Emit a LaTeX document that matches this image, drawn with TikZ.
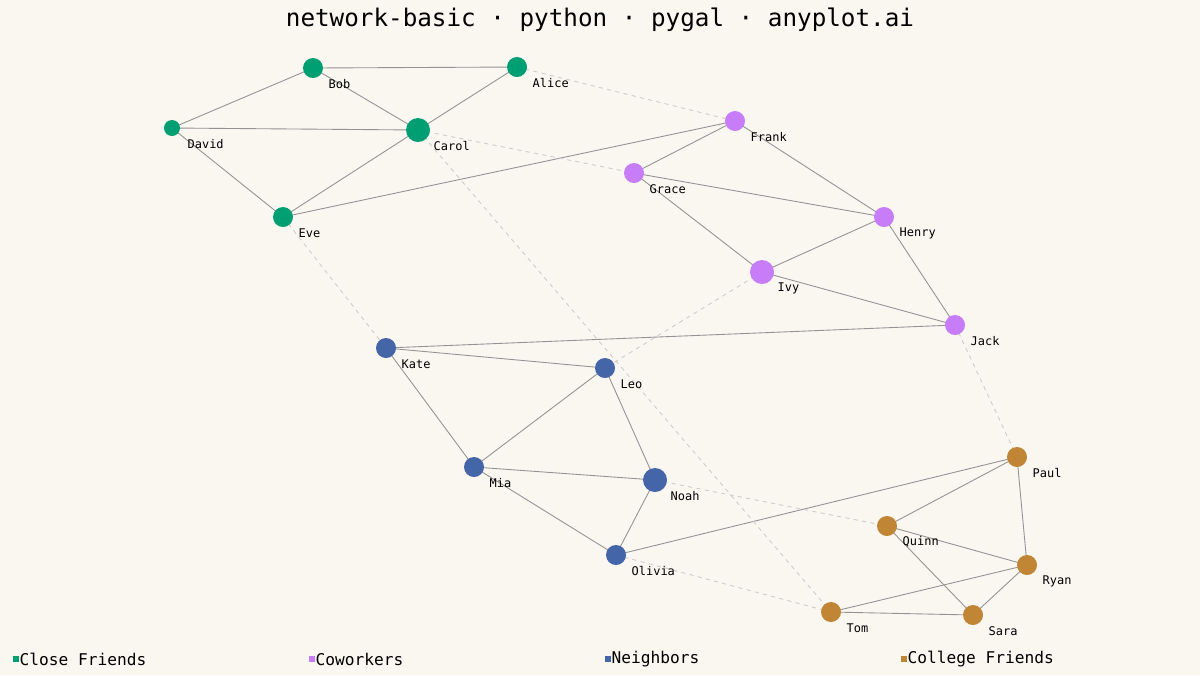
\documentclass[tikz,border=0pt]{standalone}
\usepackage{fontspec}
\setmonofont{DejaVu Sans Mono}
\usetikzlibrary{positioning}
\definecolor{bgc}{HTML}{FAF7F1}
\definecolor{cgreen}{HTML}{009E73}
\definecolor{cpurple}{HTML}{C77CF8}
\definecolor{cblue}{HTML}{4465A8}
\definecolor{corange}{HTML}{C08535}
\begin{document}
\begin{tikzpicture}[x=0.01cm, y=-0.01cm]
\tikzset{
  vtx/.style={circle, inner sep=0pt, minimum size=#1},
  lbl/.style={font=\ttfamily\fontsize{3.4pt}{4pt}\selectfont, anchor=west, inner sep=0pt},
  solid edge/.style={draw=gray!85, line width=0.25pt},
  weak edge/.style={draw=gray!40, line width=0.25pt, dash pattern=on 1.2pt off 1.2pt},
  legend/.style={font=\ttfamily\fontsize{4.6pt}{5pt}\selectfont, anchor=west, inner sep=0pt}
}
\fill[bgc] (0,0) rectangle (1200,675);
\useasboundingbox (0,0) rectangle (1200,675);

\node[font=\ttfamily\fontsize{6.9pt}{8pt}\selectfont] (title) at (600,20) {network-basic · python · pygal · anyplot.ai};

% nodes: name / x / y / size / colour
\foreach \Name/\X/\Y/\S/\C in {
  Bob/313/68/20/cgreen, Alice/517/67/20/cgreen, David/172/128/16/cgreen,
  Carol/418/130/24/cgreen, Eve/283/217/20/cgreen,
  Frank/735/121/20/cpurple, Grace/634/173/20/cpurple, Henry/884/217/20/cpurple,
  Ivy/762/272/24/cpurple, Jack/955/325/20/cpurple,
  Kate/386/348/20/cblue, Leo/605/368/20/cblue, Mia/474/467/20/cblue,
  Noah/655/480/24/cblue, Olivia/616/555/20/cblue,
  Paul/1017/457/20/corange, Quinn/887/526/20/corange, Ryan/1027/565/20/corange,
  Sara/973/615/20/corange, Tom/831/612/20/corange}{
    \path (\X,\Y) node[vtx=\S*0.01cm] (\Name){};
}

% edges first, dots on top
\begin{scope}[on background layer/.style={}]
\foreach \A/\B in {Bob/Alice, Bob/David, Bob/Carol, David/Carol, David/Eve,
  Carol/Alice, Carol/Eve, Eve/Frank, Frank/Grace, Frank/Henry, Grace/Henry,
  Grace/Ivy, Ivy/Henry, Ivy/Jack, Henry/Jack, Kate/Jack, Kate/Leo, Kate/Mia,
  Leo/Mia, Leo/Noah, Mia/Noah, Mia/Olivia, Noah/Olivia, Olivia/Paul,
  Paul/Quinn, Paul/Ryan, Quinn/Ryan, Quinn/Sara, Ryan/Tom, Ryan/Sara, Tom/Sara}{
    \draw[solid edge] (\A.center) -- (\B.center);
}
\foreach \A/\B in {Alice/Frank, Carol/Grace, Carol/Tom, Eve/Kate, Ivy/Leo,
  Jack/Paul, Noah/Quinn, Olivia/Tom}{
    \draw[weak edge] (\A.center) -- (\B.center);
}
\end{scope}

\foreach \Name/\S/\C in {Bob/20/cgreen, Alice/20/cgreen, David/16/cgreen,
  Carol/24/cgreen, Eve/20/cgreen, Frank/20/cpurple, Grace/20/cpurple,
  Henry/20/cpurple, Ivy/24/cpurple, Jack/20/cpurple, Kate/20/cblue,
  Leo/20/cblue, Mia/20/cblue, Noah/24/cblue, Olivia/20/cblue,
  Paul/20/corange, Quinn/20/corange, Ryan/20/corange, Sara/20/corange,
  Tom/20/corange}{
    \fill[\C] (\Name.center) circle ({\S/2});
    \path (\Name.center) +(15,16) node[lbl] {\Name};
}

% legend
\foreach \X/\C/\T in {13/cgreen/Close Friends, 309/cpurple/Coworkers,
  605/cblue/Neighbors, 901/corange/College Friends}{
    \fill[\C] (\X,656) rectangle +(6,6);
    \path (\X,659) +(6,0) node[legend] {\T};
}
\end{tikzpicture}
\end{document}
